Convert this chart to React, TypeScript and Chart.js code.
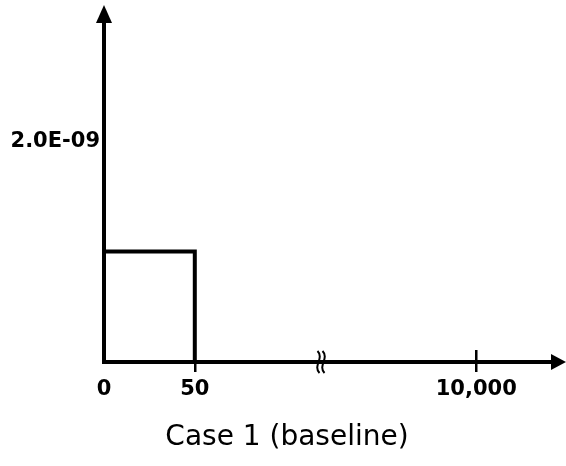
import React, { useEffect, useRef } from "react";
import { Chart, registerables, LinearScale } from "chart.js";

// Release-rate step for the baseline case: constant over the first 50 years, zero afterwards
const timeYears = [0, 0, 50, 50, 10000];
const releaseRate = [0, 1.0e-9, 1.0e-9, 0, 0];

const xTickValues = [0, 50, 10000];
const yTickValues = [2.0e-9];
const chartTitle = "Case 1 (baseline)";

// Broken time axis: linear up to 50, then compressed out to 10,000 (all in axis units)
const LINEAR_UNTIL = 50;
const FAR_VALUE = 10000;
const FAR_AT = 205;
const BREAK_AT = 119.5;
const AXIS_END = 246.7;
const Y_MAX = 3.08e-9;

function toAxisUnits(v: number): number {
  if (v <= LINEAR_UNTIL) return v;
  return LINEAR_UNTIL + ((v - LINEAR_UNTIL) * (FAR_AT - LINEAR_UNTIL)) / (FAR_VALUE - LINEAR_UNTIL);
}

function fromAxisUnits(d: number): number {
  if (d <= LINEAR_UNTIL) return d;
  return LINEAR_UNTIL + ((d - LINEAR_UNTIL) * (FAR_VALUE - LINEAR_UNTIL)) / (FAR_AT - LINEAR_UNTIL);
}

class BrokenLinearScale extends LinearScale {
  static id = "brokenLinear";
  static defaults = LinearScale.defaults;

  getPixelForValue(value: number) {
    return super.getPixelForValue(toAxisUnits(value));
  }

  getValueForPixel(pixel: number) {
    return fromAxisUnits(super.getValueForPixel(pixel) as number);
  }

  getPixelForAxisUnits(d: number) {
    return super.getPixelForValue(d);
  }
}

Chart.register(...registerables, BrokenLinearScale);

function formatSci(v: number): string {
  const [mant, exp] = v.toExponential(1).split("e");
  const e = parseInt(exp, 10);
  return `${mant}E${e < 0 ? "-" : "+"}${String(Math.abs(e)).padStart(2, "0")}`;
}

// Arrowheads, the axis break mark and the tick crossing at 10,000
const axisDecor = {
  id: "axisDecor",
  afterDraw(chart: any) {
    const { ctx, chartArea } = chart;
    const xs = chart.scales.x as BrokenLinearScale;
    const axisX = chartArea.left;
    const axisY = chartArea.bottom;
    ctx.save();
    ctx.fillStyle = "#000";
    ctx.strokeStyle = "#000";

    // up arrow on the y axis
    ctx.beginPath();
    ctx.moveTo(axisX, 5);
    ctx.lineTo(axisX - 8, chartArea.top + 1);
    ctx.lineTo(axisX + 8, chartArea.top + 1);
    ctx.closePath();
    ctx.fill();

    // right arrow on the x axis
    ctx.beginPath();
    ctx.moveTo(566, axisY);
    ctx.lineTo(chartArea.right - 1, axisY - 8);
    ctx.lineTo(chartArea.right - 1, axisY + 8);
    ctx.closePath();
    ctx.fill();

    // upper half of the 10,000 tick
    const farPx = xs.getPixelForValue(FAR_VALUE);
    ctx.lineWidth = 2.5;
    ctx.beginPath();
    ctx.moveTo(farPx, axisY);
    ctx.lineTo(farPx, axisY - 12);
    ctx.stroke();

    // break mark
    const bx = xs.getPixelForAxisUnits(BREAK_AT);
    ctx.lineWidth = 2;
    for (const dx of [-2.5, 2.5]) {
      const cx = bx + dx;
      ctx.beginPath();
      ctx.moveTo(cx - 1, axisY - 11);
      ctx.bezierCurveTo(cx + 6, axisY - 4, cx - 6, axisY + 4, cx + 1, axisY + 11);
      ctx.stroke();
    }
    ctx.restore();
  },
};

export default function App() {
  const canvasRef = useRef<HTMLCanvasElement | null>(null);

  useEffect(() => {
    if (!canvasRef.current) return;
    const chart = new Chart(canvasRef.current, {
      type: "line",
      data: {
        datasets: [
          {
            data: timeYears.map((t, i) => ({ x: t, y: releaseRate[i] })),
            borderColor: "#000",
            borderWidth: 4,
            pointRadius: 0,
            tension: 0,
            fill: false,
            clip: false as any,
          },
        ],
      },
      options: {
        animation: false,
        responsive: false,
        events: [],
        layout: { padding: { left: 8, right: 0, top: 22, bottom: 0 } },
        plugins: {
          legend: { display: false },
          tooltip: { enabled: false },
          title: {
            display: true,
            position: "bottom",
            text: chartTitle,
            color: "#000",
            font: { family: "'DejaVu Sans', sans-serif", size: 28, weight: "normal", lineHeight: 1.2 },
            padding: { top: 0, bottom: 11 },
          },
        },
        scales: {
          x: {
            type: "brokenLinear" as any,
            min: 0,
            max: AXIS_END,
            bounds: "data",
            grid: {
              display: true,
              drawOnChartArea: false,
              drawTicks: true,
              tickLength: 10,
              color: "#000",
              lineWidth: (c: any) => (c.tick && c.tick.value > 0 ? 2.5 : 0),
            },
            border: { display: true, color: "#000", width: 4 },
            ticks: {
              autoSkip: false,
              maxRotation: 0,
              padding: 5,
              color: "#000",
              font: { family: "'DejaVu Sans', sans-serif", size: 21, weight: "bold" },
              callback: (v: any) => Number(v).toLocaleString("en-US"),
            },
            afterBuildTicks: (scale: any) => {
              scale.ticks = xTickValues.map((value) => ({ value }));
            },
            afterFit: (scale: any) => {
              scale.height = 59.4;
              // leave room on the right for the arrowhead
              scale.paddingRight = 14;
            },
          } as any,
          y: {
            type: "linear",
            min: 0,
            max: Y_MAX,
            bounds: "data",
            grid: { display: false, drawTicks: false },
            border: { display: true, color: "#000", width: 4 },
            ticks: {
              padding: 4,
              color: "#000",
              font: { family: "'DejaVu Sans', sans-serif", size: 21, weight: "bold" },
              callback: (v: any) => formatSci(Number(v)),
            },
            afterBuildTicks: (scale: any) => {
              scale.ticks = yTickValues.map((value) => ({ value }));
            },
            afterFit: (scale: any) => {
              scale.width = 96;
            },
          },
        },
      },
      plugins: [axisDecor],
    });
    return () => chart.destroy();
  }, []);

  return (
    <div style={{ position: "fixed", left: 0, top: 0, width: 566, height: 466, background: "#fff" }}>
      <canvas ref={canvasRef} width={566} height={466} />
    </div>
  );
}
